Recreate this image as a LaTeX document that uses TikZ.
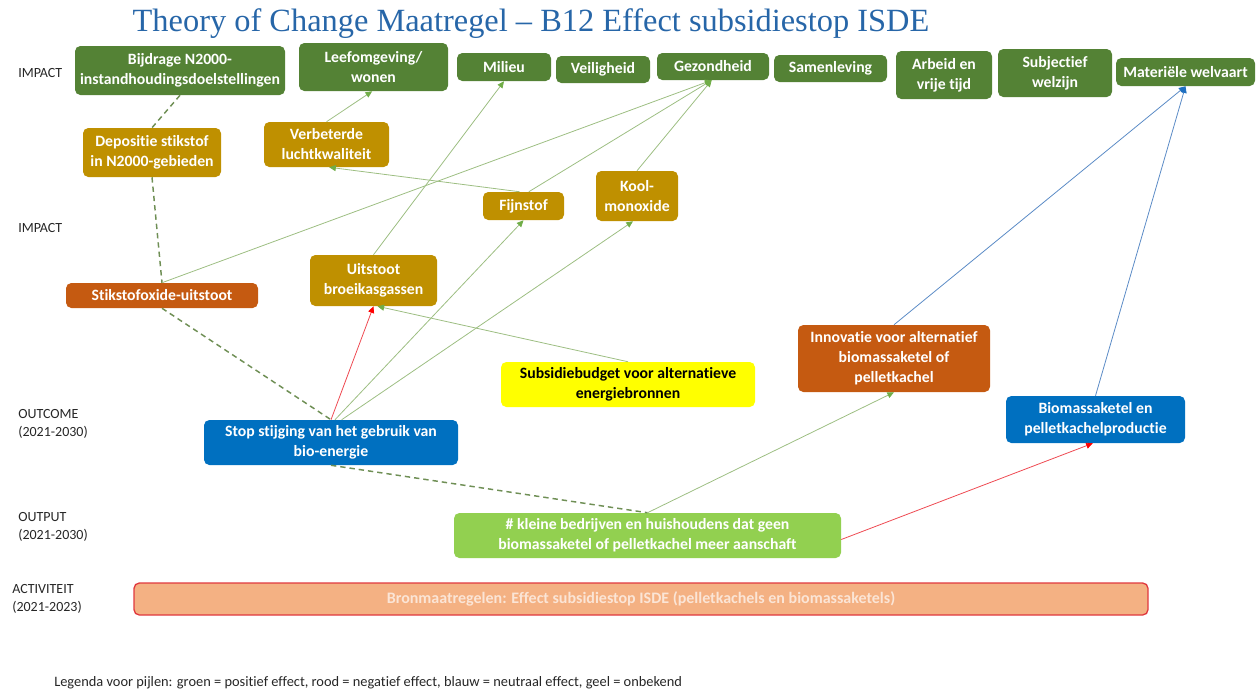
\documentclass[tikz,border=0pt]{standalone}
\usepackage{fontspec}
\setmainfont[Ligatures=NoCommon]{Carlito}
\newfontfamily\titlefont{Liberation Serif}
\usetikzlibrary{arrows.meta}
\definecolor{dkgreen}{HTML}{548235}
\definecolor{gold}{HTML}{BF9000}
\definecolor{rust}{HTML}{C55A11}
\definecolor{bblue}{HTML}{0070C0}
\definecolor{yel}{HTML}{FFFF00}
\definecolor{ltgreen}{HTML}{92D050}
\definecolor{peach}{HTML}{F4B183}
\definecolor{peachtext}{HTML}{FBE5D6}
\definecolor{barborder}{HTML}{E0393E}
\definecolor{titleblue}{HTML}{2766A8}
\definecolor{posline}{HTML}{9DBE82}
\definecolor{poshead}{HTML}{70AD47}
\definecolor{dashgreen}{HTML}{6F8F55}
\definecolor{negline}{HTML}{EE4A52}
\definecolor{neuline}{HTML}{5B8BC6}
\definecolor{neuhead}{HTML}{1F6FC0}
\definecolor{labeltext}{HTML}{262626}
\tikzset{
  wh/.style 2 args={minimum width=#1*0.75pt, minimum height=#2*0.75pt},
  box/.style={rounded corners=4pt, align=center, inner sep=0pt, text=white,
    font=\bfseries\fontsize{11.8}{15}\selectfont},
  impbox/.style={box, fill=dkgreen},
  goldbox/.style={box, fill=gold, text=white},
  rustbox/.style={box, fill=rust},
  bluebox/.style={box, fill=bblue},
  lvl/.style={anchor=west, align=left, text=labeltext, inner sep=0pt,
    font=\fontsize{10.5}{13.5}\selectfont},
  posarr/.style={draw=posline, line width=0.6pt, -{Triangle[length=5pt,width=4.5pt,color=poshead]}},
  negarr/.style={draw=negline, line width=0.6pt, -{Triangle[length=5pt,width=4.5pt,color=red]}},
  neuarr/.style={draw=neuline, line width=0.6pt, -{Triangle[length=5pt,width=4.5pt,color=neuhead]}},
  dshline/.style={draw=dashgreen, line width=1.1pt, dash pattern=on 4pt off 3pt}
}
\begin{document}
\begin{tikzpicture}[x=0.75pt,y=-0.75pt]
\useasboundingbox (0,0) rectangle (1260,693);
% title
\node[text=titleblue, inner sep=0pt] (title) at (531,24)
  {\titlefont\fontsize{24.3}{30}\selectfont Theory of Change Maatregel – B12 Effect subsidiestop ISDE};
% level labels
\node[lvl] (l1) at (18,73) {IMPACT};
\node[lvl] (l2) at (18,228) {IMPACT};
\node[lvl] (l3) at (18,424) {OUTCOME\\(2021-2030)};
\node[lvl] (l4) at (18,527) {OUTPUT\\(2021-2030)};
\node[lvl] (l5) at (12,599) {ACTIVITEIT\\(2021-2023)};
% top impact row
\node[impbox, wh={210}{49}] (bijdrage) at (180,70.5) {Bijdrage N2000-\\instandhoudingsdoelstellingen};
\node[impbox, wh={149}{48}] (leef) at (373.5,67) {Leefomgeving/\\wonen};
\node[impbox, wh={94}{28}] (milieu) at (504,67) {Milieu};
\node[impbox, wh={94}{27}] (veilig) at (603,69.5) {Veiligheid};
\node[impbox, wh={112}{27}] (gezond) at (713,66.5) {Gezondheid};
\node[impbox, wh={113}{27}] (samen) at (830.5,68.5) {Samenleving};
\node[impbox, wh={96}{48}] (arbeid) at (944,75) {Arbeid en\\vrije tijd};
\node[impbox, wh={114}{48}] (subj) at (1055,73) {Subjectief\\welzijn};
\node[impbox, wh={139}{28}] (mat) at (1185.5,72) {Materiële welvaart};
% second level
\node[goldbox, wh={138}{49}] (depositie) at (152,152.5) {Depositie stikstof\\in N2000-gebieden};
\node[goldbox, wh={125}{45}] (verbeterde) at (326.5,144.5) {Verbeterde\\luchtkwaliteit};
\node[goldbox, wh={81}{28}] (fijnstof) at (523.5,206) {Fijnstof};
\node[goldbox, wh={82}{50}] (kool) at (637,196) {Kool-\\monoxide};
\node[goldbox, wh={127}{51}] (uitstoot) at (373.5,280.5) {Uitstoot\\broeikasgassen};
\node[rustbox, wh={192}{25}] (stikstofox) at (162,295.5) {Stikstofoxide-uitstoot};
% outcome level
\node[box, fill=yel, text=black, wh={254}{45}] (subsidie) at (628,384.5) {Subsidiebudget voor alternatieve\\energiebronnen};
\node[rustbox, wh={192}{67}] (innovatie) at (894,358.5) {Innovatie voor alternatief\\biomassaketel of\\pelletkachel};
\node[bluebox, wh={179}{47}] (biomassa) at (1095.5,419.5) {Biomassaketel en\\pelletkachelproductie};
\node[bluebox, wh={254}{45}] (stop) at (331,442.5) {Stop stijging van het gebruik van\\bio-energie};
% output
\node[box, fill=ltgreen, wh={387}{45}] (kleine) at (647.5,535.5) {\# kleine bedrijven en huishoudens dat geen\\biomassaketel of pelletkachel meer aanschaft};
% activity
\node[box, fill=peach, draw=barborder, line width=1pt, text=peachtext, wh={1014}{32}, font=\bfseries\fontsize{12}{15}\selectfont] (bron) at (641,599) {Bronmaatregelen: Effect subsidiestop ISDE (pelletkachels en biomassaketels)};
% legend
\node[anchor=west, inner sep=0pt, text=labeltext, font=\fontsize{10.8}{13}\selectfont] (legenda) at (54,683)
  {Legenda voor pijlen: groen = positief effect, rood = negatief effect, blauw = neutraal effect, geel = onbekend};
% dashed chain
\draw[dshline] (bijdrage.south) -- (depositie.north);
\draw[dshline] (depositie.south) -- (stikstofox.north);
\draw[dshline] (stikstofox.south) -- (stop.north);
\draw[dshline] (stop.south) -- (kleine.north);
% positive arrows
\draw[posarr] (stikstofox.north) -- ([xshift=-1pt]gezond.south);
\draw[posarr] (verbeterde.north) -- ([xshift=-1pt]leef.south);
\draw[posarr] ([xshift=-3pt]fijnstof.north) -- ([xshift=2pt]verbeterde.south);
\draw[posarr] ([xshift=4pt]fijnstof.north) -- ([xshift=-1pt]gezond.south);
\draw[posarr] (kool.north) -- ([xshift=-1pt]gezond.south);
\draw[posarr] (uitstoot.north) -- (milieu.south);
\draw[posarr] ([xshift=3pt]stop.north) -- (fijnstof.south);
\draw[posarr] ([xshift=8pt]stop.north) -- ([xshift=-3pt]kool.south);
\draw[posarr] (subsidie.north) -- ([xshift=3pt]uitstoot.south);
\draw[posarr] (kleine.north) -- (innovatie.south);
% negative arrows
\draw[negarr] (stop.north) -- (uitstoot.south);
\draw[negarr] ([yshift=-3pt]kleine.east) -- ([xshift=-2pt]biomassa.south);
% neutral arrows
\draw[neuarr] (innovatie.north) -- (mat.south);
\draw[neuarr] (biomassa.north) -- (mat.south);
\end{tikzpicture}
\end{document}
